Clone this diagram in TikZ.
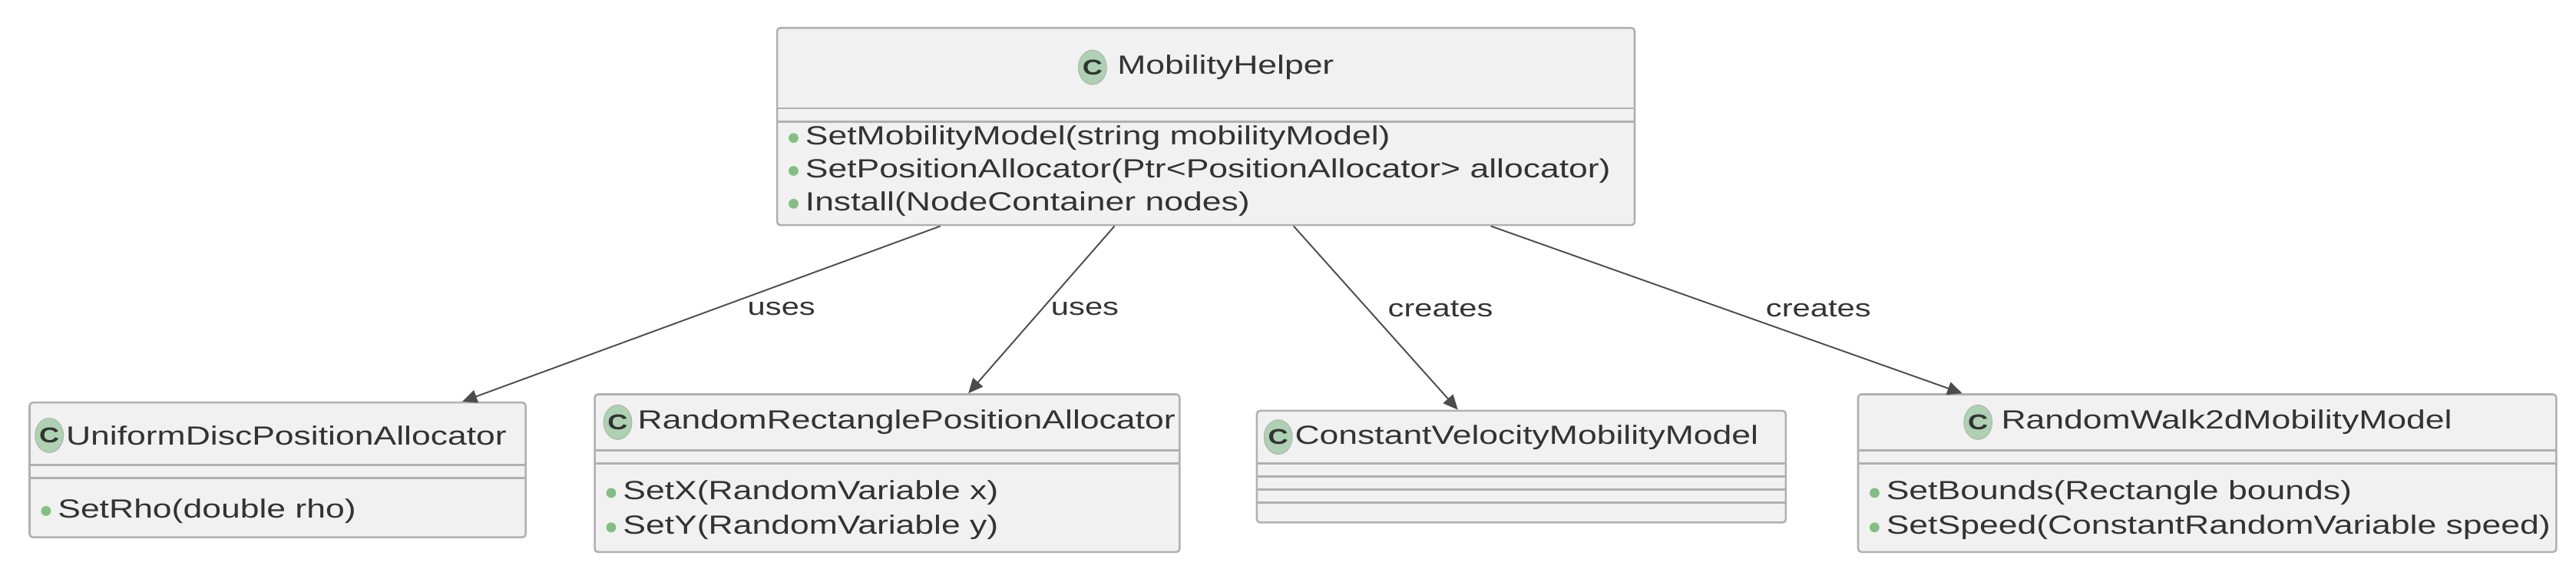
\documentclass[tikz,border=0pt]{standalone}
\usepackage{fontspec}
\setmainfont{Liberation Sans}[FakeStretch=1.3]
\usetikzlibrary{arrows.meta}
\definecolor{boxfill}{HTML}{F1F1F1}
\definecolor{boxline}{HTML}{B0B0B0}
\definecolor{cgreen}{HTML}{ADD1B2}
\definecolor{dotg}{HTML}{84BE84}
\definecolor{txt}{HTML}{333333}
\tikzset{
  box/.style={draw=boxline, line width=1.2pt, fill=boxfill, rounded corners=2pt, inner sep=0pt},
  sep/.style={draw=boxline, line width=1.2pt},
  cls/.style={ellipse, draw=boxline, fill=cgreen, minimum width=17pt, minimum height=21pt, inner sep=0pt, font=\fontsize{13}{13}\selectfont\bfseries, text=black!80},
  ttl/.style={anchor=west, inner sep=0pt, font=\fontsize{16}{16}\selectfont, text=txt},
  meth/.style={anchor=west, inner sep=0pt, font=\fontsize{16}{16}\selectfont, text=txt},
  dot/.style={circle, fill=dotg, minimum size=6pt, inner sep=0pt},
  arr/.style={draw=black!70, line width=0.9pt, -{Triangle[length=9pt,width=8pt]}},
  lbl/.style={font=\fontsize{15}{15}\selectfont, text=txt, inner sep=0pt, anchor=west}
}
\usetikzlibrary{shapes.geometric}
\newcommand{\mline}[3]{\node[dot] at (#1+8,#2) {}; \node[meth] at (#1+15,#2) {#3};}
\begin{document}
\begin{tikzpicture}[x=1pt,y=-1pt]
\useasboundingbox (0,0) rectangle (1568,352);
% MobilityHelper
\node[box, minimum width=522pt, minimum height=120pt] (mh) at (734,77) {};
\draw[sep] (473,66) -- (995,66) (473,74) -- (995,74);
\node[cls] (mhc) at (665,41) {C};
\node[ttl] (mht) at (680,41) {MobilityHelper};
\mline{475}{84}{SetMobilityModel(string mobilityModel)}
\mline{475}{104}{SetPositionAllocator(Ptr<PositionAllocator> allocator)}
\mline{475}{124}{Install(NodeContainer nodes)}
% UniformDisc
\node[box, minimum width=302pt, minimum height=82pt] (ud) at (169,286) {};
\draw[sep] (18,283) -- (320,283) (18,291) -- (320,291);
\node[cls] (udc) at (30,265) {C};
\node[ttl] (udt) at (40,265) {UniformDiscPositionAllocator};
\mline{20}{311}{SetRho(double rho)}
% RandomRectangle
\node[box, minimum width=356pt, minimum height=96pt] (rr) at (540,288) {};
\draw[sep] (362,274) -- (718,274) (362,282) -- (718,282);
\node[cls] (rrc) at (376,257) {C};
\node[ttl] (rrt) at (388,257) {RandomRectanglePositionAllocator};
\mline{364}{300}{SetX(RandomVariable x)}
\mline{364}{321}{SetY(RandomVariable y)}
% ConstantVelocity
\node[box, minimum width=322pt, minimum height=68pt] (cv) at (926,284) {};
\draw[sep] (765,282) -- (1087,282) (765,290) -- (1087,290) (765,298) -- (1087,298) (765,306) -- (1087,306);
\node[cls] (cvc) at (778,266) {C};
\node[ttl] (cvt) at (788,266) {ConstantVelocityMobilityModel};
% RandomWalk
\node[box, minimum width=425pt, minimum height=96pt] (rw) at (1343.5,288) {};
\draw[sep] (1131,274) -- (1556,274) (1131,282) -- (1556,282);
\node[cls] (rwc) at (1204,257) {C};
\node[ttl] (rwt) at (1218,257) {RandomWalk2dMobilityModel};
\mline{1133}{300}{SetBounds(Rectangle bounds)}
\mline{1133}{321}{SetSpeed(ConstantRandomVariable speed)}
% arrows
\draw[arr] ([xshift=100pt]mh.south west) -- node[lbl, pos=0.47, xshift=19pt] {uses} ([xshift=264pt]ud.north west);
\draw[arr] ([xshift=206pt]mh.south west) -- node[lbl, pos=0.495, xshift=5pt] {uses} ([xshift=228pt]rr.north west);
\draw[arr] ([xshift=315pt]mh.south west) -- node[lbl, pos=0.45, xshift=12pt] {creates} ([xshift=123pt]cv.north west);
\draw[arr] ([xshift=435pt]mh.south west) -- node[lbl, pos=0.495, xshift=25pt] {creates} ([xshift=64pt]rw.north west);
\end{tikzpicture}
\end{document}
